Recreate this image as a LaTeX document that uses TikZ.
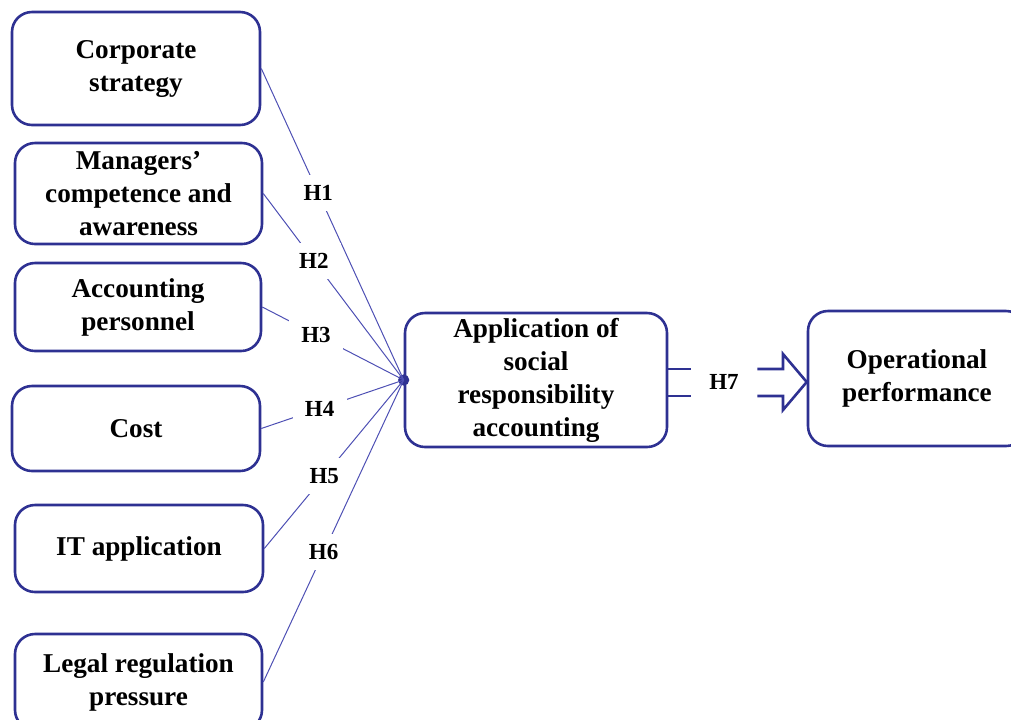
\documentclass[tikz,border=0pt]{standalone}
\usepackage{fontspec}
\setmainfont{Liberation Serif}
\usepackage{tikz}
\usetikzlibrary{positioning}
\usetikzlibrary{calc}
\definecolor{boxblue}{RGB}{46,49,146}
\definecolor{lineblue}{RGB}{78,80,180}
\tikzset{factor box/.style={draw=boxblue,
                            line width=1.3pt,
                            rounded corners=10pt,
                            align=center,
                            inner sep=2pt,
                            font=\fontsize{13.6}{16.5}\selectfont\bfseries}}
\tikzset{link/.style={draw=lineblue,
                      line width=0.5pt}}
\tikzset{hyp/.style={fill=white,
                     inner sep=1pt,
                     minimum width=27pt,
                     minimum height=18pt,
                     font=\fontsize{11.5}{12}\selectfont\bfseries}}

\begin{document}
\begin{tikzpicture}
      [
      x=0.5pt,y=-0.5pt,
      ]
      \useasboundingbox (0,0) rectangle (1011,719);

      % factor boxes
      \node [factor box,minimum width=124pt,minimum height=56.5pt] (F1) at (136,68.5)
      {Corporate\\strategy};
      \node [factor box,minimum width=123.5pt,minimum height=50.5pt] (F2) at (138.5,193.5)
      {Managers’\\competence and\\awareness};
      \node [factor box,minimum width=123pt,minimum height=44pt] (F3) at (138,307)
      {Accounting\\personnel};
      \node [factor box,minimum width=124pt,minimum height=42.5pt] (F4) at (136,428.5)
      {Cost};
      \node [factor box,minimum width=124pt,minimum height=43.5pt] (F5) at (139,548.5)
      {IT application};
      \node [factor box,minimum width=123.5pt,minimum height=48pt] (F6) at (138.5,682)
      {Legal regulation\\pressure};

      \node [factor box,minimum width=131pt,minimum height=67pt] (SRA) at (536,380)
      {Application of\\social\\responsibility\\accounting};
      \node [factor box,minimum width=109pt,minimum height=67.5pt] (OP) at (917,378.5)
      {Operational\\performance};

      % hub
      \coordinate (hub) at (SRA.west);
      \fill [boxblue] (hub) circle (2.8pt);

      % hypothesis links
      \foreach \i/\p in {1/0.4,2/0.36,3/0.38,4/0.41,5/0.43,6/0.43}
      {
      \path [link] (F\i.east) -- node [hyp,pos=\p] {H\i} (hub);
      }

      % H7 arrow
      \node [hyp,inner sep=0pt,minimum width=33pt] (H7) at (724,382) {H7};
      \draw [draw=boxblue,line width=1.3pt] (SRA.east |- 0,369) -- (H7.west |- 0,369);
      \draw [draw=boxblue,line width=1.3pt] (SRA.east |- 0,396) -- (H7.west |- 0,396);
      \draw [draw=boxblue,line width=1.3pt,line join=miter]
      (H7.east |- 0,369) -- (783,369) -- (783,354) -- (OP.west |- 0,382)
      -- (783,410) -- (783,396) -- (H7.east |- 0,396);

    \end{tikzpicture}
\end{document}
